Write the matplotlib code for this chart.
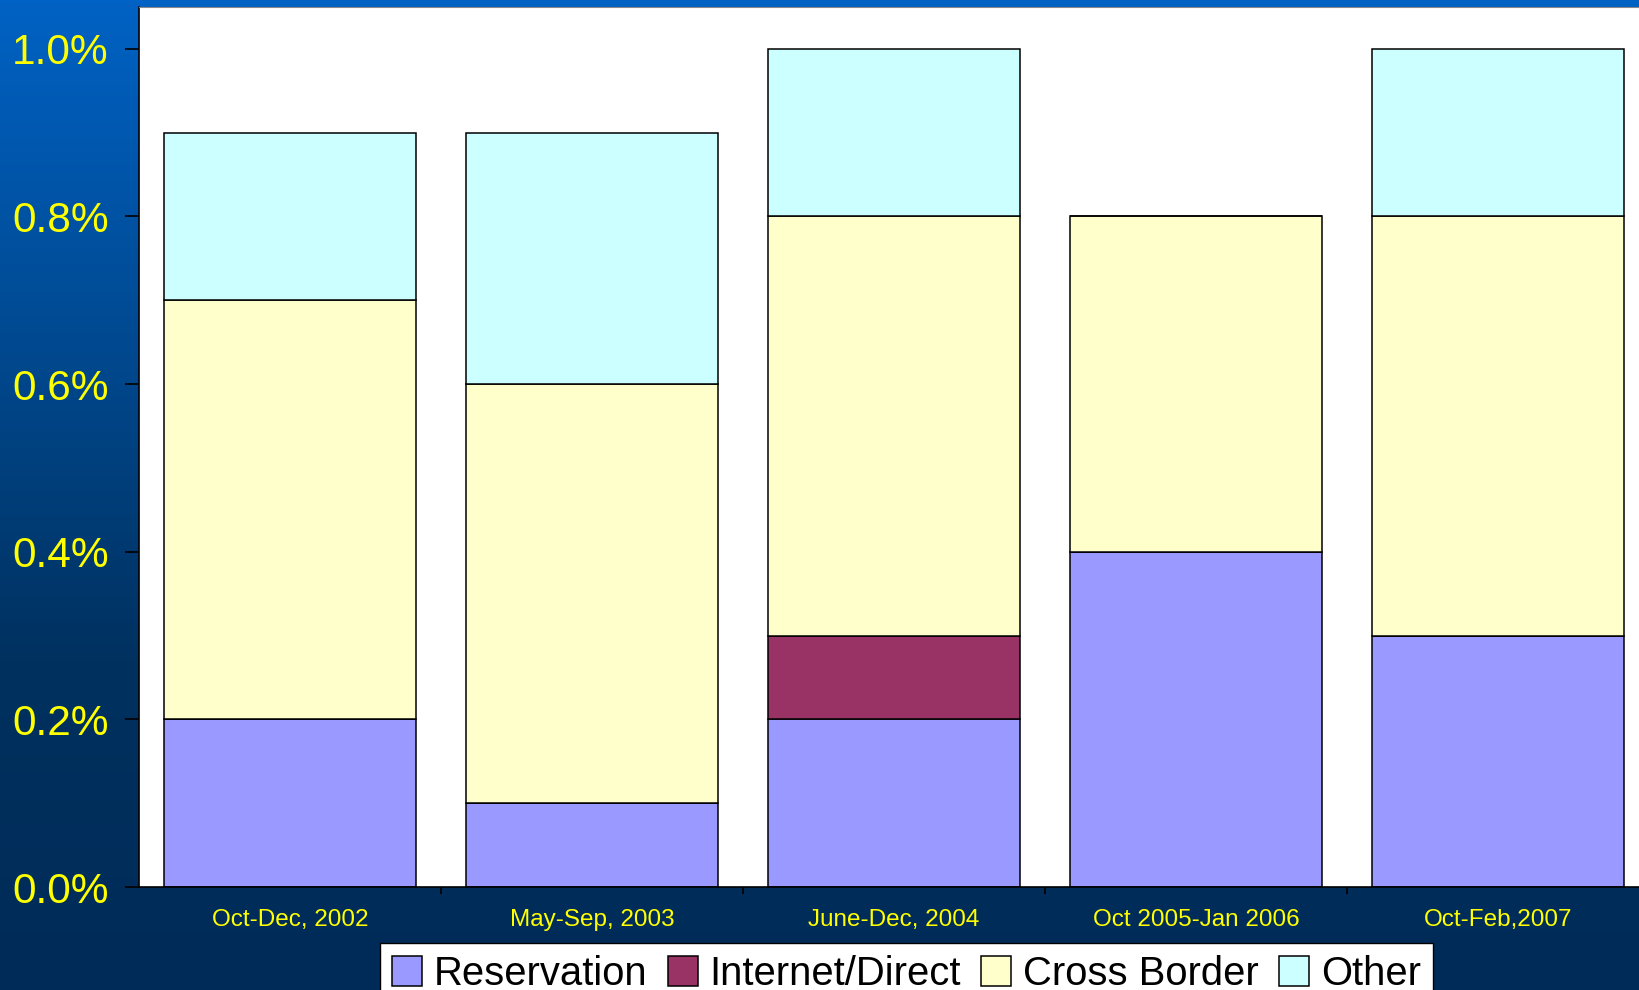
import numpy as np
import matplotlib.pyplot as plt
from matplotlib.colors import LinearSegmentedColormap

plt.rcParams['font.family'] = ['Liberation Sans', 'DejaVu Sans']

categories = ["Oct-Dec, 2002", "May-Sep, 2003", "June-Dec, 2004",
              "Oct 2005-Jan 2006", "Oct-Feb,2007"]
reservation = [0.2, 0.1, 0.2, 0.4, 0.3]
internet_direct = [0.0, 0.0, 0.1, 0.0, 0.0]
cross_border = [0.5, 0.5, 0.5, 0.4, 0.5]
other = [0.2, 0.3, 0.2, 0.0, 0.2]

series = [("Reservation", reservation, "#9999FF"),
          ("Internet/Direct", internet_direct, "#993366"),
          ("Cross Border", cross_border, "#FFFFCC"),
          ("Other", other, "#CCFFFF")]

yticks = [0.0, 0.2, 0.4, 0.6, 0.8, 1.0]

fig = plt.figure(figsize=(16.4, 9.9), dpi=100)

# slide-like blue gradient behind everything
bg = fig.add_axes([0, 0, 1, 1], zorder=-10)
grad = LinearSegmentedColormap.from_list("slide", ["#0062C4", "#004A92", "#00315F", "#002B58"])
bg.imshow(np.linspace(0, 1, 256).reshape(-1, 1), aspect="auto", cmap=grad,
          extent=[0, 1, 0, 1], origin="upper")
bg.set_axis_off()

ax = fig.add_axes([0.0848, 0.104, 0.9207, 0.889])
ax.set_facecolor("white")

x = np.arange(len(categories))
bottom = np.zeros(len(categories))
for name, vals, color in series:
    ax.bar(x, vals, 0.835, bottom=bottom, color=color, edgecolor="black",
           linewidth=1.1, label=name)
    bottom += np.array(vals)

ax.set_xlim(-0.5, 4.5)
ax.set_ylim(0, 1.05)
ax.set_yticks(yticks)
ax.set_yticklabels([f"{v:.1f}%" for v in yticks], fontsize=30.5, color="#FFFF00")
ax.tick_params(axis="y", direction="out", length=10, width=1.2, color="black", pad=12)

ax.set_xticks(x)
ax.set_xticklabels(categories, fontsize=17.5, color="#FFFF00")
ax.tick_params(axis="x", length=0, pad=16)
ax.set_xticks(x[:-1] + 0.5, minor=True)
ax.tick_params(axis="x", which="minor", direction="out", length=5, width=1.2, color="black")

ax.spines["left"].set_color("black")
ax.spines["bottom"].set_color("black")
ax.spines["left"].set_linewidth(1.2)
ax.spines["bottom"].set_linewidth(1.2)
ax.spines["top"].set_color("#888888")
ax.spines["right"].set_visible(False)

leg = fig.legend(loc="upper left", bbox_to_anchor=(0.2317, 0.0475), ncol=4,
                 fontsize=28.8, frameon=True, fancybox=False, framealpha=1,
                 edgecolor="black", handlelength=0.75, handleheight=0.75,
                 handletextpad=0.3, columnspacing=0.5, borderpad=0.3,
                 borderaxespad=0)
leg.get_frame().set_linewidth(1.0)

fig.savefig("out.png", dpi=100)
plt.close(fig)
